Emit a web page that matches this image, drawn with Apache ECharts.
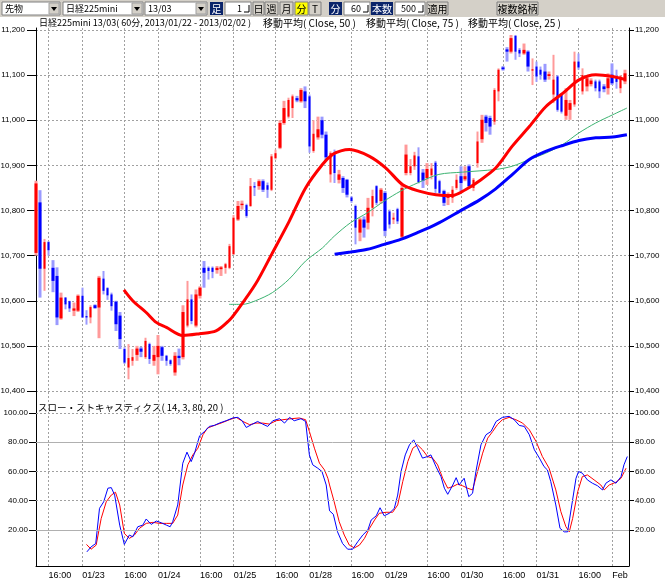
<!DOCTYPE html>
<html>
<head>
<meta charset="utf-8">
<script src="https://cdn.jsdelivr.net/npm/echarts@6/dist/echarts.min.js"></script>
<style>
html, body { margin: 0; padding: 0; background: #fff; }
#chart { width: 665px; height: 579px; }
</style>
</head>
<body>
<div id="chart"></div>
<script>
// 60-minute bars, 2013/01/22 13:00 .. 2013/02/01 ; one extra empty slot at the right edge
const barCount = 142;
const tickBars = [3, 11, 21, 29, 39, 47, 57, 65, 75, 83, 93, 101, 111, 119, 129, 137];
const tickLabels = ['16:00', '01/23', '16:00', '01/24', '16:00', '01/25', '16:00', '01/28',
                    '16:00', '01/29', '16:00', '01/30', '16:00', '01/31', '16:00', 'Feb'];

// [open, close, low, high]
const candles = [
  [10706,10860,10700,10866],[10818,10671,10607,10845],[10671,10730,10622,10737],[10730,10712,10700,10732],
  [10673,10644,10619,10690],[10655,10563,10546,10674],[10561,10607,10558,10618],[10607,10592,10581,10608],
  [10599,10583,10575,10600],[10578,10583,10566,10596],[10578,10611,10575,10614],[10611,10563,10562,10629],
  [10566,10563,10547,10579],[10563,10586,10550,10590],[10590,10584,10582,10592],[10585,10651,10517,10655],
  [10649,10622,10614,10666],[10628,10612,10602,10630],[10614,10588,10578,10618],[10598,10548,10533,10600],
  [10567,10515,10493,10575],[10493,10463,10460,10497],[10452,10473,10426,10504],[10467,10475,10456,10493],
  [10480,10494,10467,10500],[10494,10487,10475,10498],[10475,10511,10471,10518],[10504,10471,10460,10507],
  [10467,10480,10456,10500],[10475,10500,10437,10524],[10497,10478,10467,10500],[10478,10467,10456,10480],
  [10468,10460,10456,10470],[10441,10478,10434,10486],[10478,10473,10457,10494],[10475,10575,10470,10590],
  [10545,10603,10541,10644],[10603,10555,10548,10614],[10545,10614,10541,10625],[10611,10629,10605,10632],
  [10673,10662,10629,10688],[10673,10666,10647,10676],[10673,10664,10650,10676],[10668,10673,10660,10677],
  [10670,10674,10655,10677],[10673,10681,10660,10684],[10673,10721,10670,10726],[10703,10784,10702,10790],
  [10780,10810,10777,10821],[10812,10815,10802,10822],[10812,10788,10784,10815],[10810,10854,10808,10872],
  [10854,10851,10832,10863],[10854,10865,10846,10869],[10865,10846,10841,10869],[10856,10846,10828,10862],
  [10846,10920,10843,10925],[10916,10927,10913,10935],[10939,10994,10936,11000],[10994,11027,10990,11043],
  [11008,11045,11004,11050],[11027,11053,11005,11057],[11049,11044,11040,11054],[11042,11067,11039,11071],
  [11064,11042,11027,11075],[11053,10942,10928,11057],[10932,10970,10928,11000],[10962,10980,10957,11008],
  [11000,10968,10960,11008],[10968,10918,10910,10975],[10880,10927,10862,10931],[10924,10883,10861,10935],
  [10868,10880,10860,10890],[10872,10850,10839,10876],[10868,10835,10829,10870],[10829,10821,10817,10832],
  [10810,10762,10725,10813],[10751,10780,10732,10784],[10780,10762,10740,10787],[10773,10806,10758,10828],
  [10806,10832,10787,10846],[10854,10817,10812,10856],[10821,10846,10815,10850],[10839,10755,10743,10843],
  [10798,10769,10760,10802],[10780,10784,10770,10795],[10803,10776,10770,10806],[10742,10850,10738,10858],
  [10883,10924,10878,10946],[10883,10898,10878,10914],[10898,10922,10890,10930],[10920,10863,10860,10940],
  [10884,10866,10850,10892],[10872,10892,10857,10905],[10878,10893,10869,10905],[10906,10848,10839,10910],
  [10865,10839,10832,10868],[10843,10817,10810,10846],[10828,10835,10812,10840],[10828,10846,10817,10854],
  [10850,10868,10846,10880],[10876,10861,10843,10898],[10869,10876,10865,10898],[10898,10854,10850,10902],
  [10850,10868,10843,10872],[10905,10953,10895,10975],[10958,11001,10950,11012],[11008,10994,10975,11012],
  [11005,10986,10968,11010],[10997,11067,10990,11071],[11064,11112,11042,11115],[11117,11113,11110,11120],
  [11157,11152,11130,11162],[11152,11182,11148,11189],[11187,11152,11134,11189],[11156,11148,11140,11160],
  [11148,11156,11145,11170],[11152,11119,11108,11155],[11110,11113,11078,11137],[11119,11097,11085,11130],
  [11112,11101,11090,11119],[11108,11090,11085,11125],[11098,11102,11090,11108],[11057,11090,11038,11145],
  [11097,11023,11019,11100],[11057,11019,11015,11060],[11010,11045,11001,11071],[11023,11038,11001,11045],
  [11035,11130,11030,11152],[11130,11117,11112,11148],[11064,11100,11057,11115],[11075,11093,11064,11097],
  [11080,11088,11075,11093],[11086,11071,11064,11090],[11086,11064,11049,11090],[11075,11069,11062,11080],
  [11071,11093,11057,11104],[11101,11082,11078,11126],[11097,11085,11070,11112],[11071,11097,11060,11100],
  [11086,11104,11080,11112]
];

// moving averages: [bar position, price]
const ma25 = [[20.9,10624],[23,10600],[26.2,10574],[28.6,10552],[31,10541],[34.9,10523],[38.9,10527],
  [42.8,10533],[46,10557],[47.5,10574],[52.2,10637],[56.2,10706],[60.2,10776],[64.1,10850],[68.1,10902],
  [70.5,10924],[72.5,10932],[74.5,10935],[79.3,10920],[83.2,10894],[87.2,10857],[91.1,10843],[95.1,10835],
  [99,10833],[102.1,10846],[105.3,10865],[109.3,10894],[113.2,10942],[117.3,10986],[121.2,11030],
  [125.3,11060],[129.2,11090],[133.1,11101],[137.1,11097],[140.2,11090]];
const ma50 = [[45.9,10592],[49.1,10592],[52.2,10600],[56.2,10618],[60.2,10648],[64.1,10688],[68.1,10717],
  [70.9,10743],[74.8,10773],[78.8,10795],[82.8,10821],[86.7,10843],[90.7,10861],[95.8,10880],[101.4,10885],
  [109.3,10891],[113.2,10898],[117.3,10913],[121.2,10927],[125.2,10946],[129.1,10972],[133.1,10994],
  [137.1,11012],[140.5,11027]];
const ma75 = [[71,10703],[74.8,10708],[78.8,10714],[82.8,10725],[86.7,10736],[90.7,10751],[93.5,10762],
  [95.9,10773],[101.4,10802],[105.4,10823],[109.3,10848],[113.3,10880],[117.3,10913],[121.2,10931],
  [125.2,10944],[129.1,10955],[133.1,10961],[137.1,10963],[140.5,10968]];

// slow stochastics (14, 3, 80, 20): [bar position, value]
const stochK = [[12.1,4.9],[13.1,8.3],[14.2,10.6],[15.1,34.7],[16.1,39.2],[17.1,48.5],[17.9,48.9],[18.7,43.8],
  [19.9,23.2],[21,10],[22.2,16.4],[23,15.2],[24.2,22.1],[25.4,23.2],[26.2,27.4],[27.4,23.7],[28.6,26],
  [29.8,24.8],[31,23.2],[31.9,22.1],[32.5,25.5],[33.7,37],[34.9,65.6],[35.9,73.2],[36.9,66.7],[37.7,72.5],
  [38.9,84.4],[40.1,87.4],[41.2,90.8],[42.4,91.5],[43.6,93.1],[45.2,94.7],[46.8,96.6],[48,97],[49,94.7],
  [50,90.1],[51.2,92],[52.7,94.2],[53.9,92.4],[55.1,90.8],[56.3,94.7],[57.9,96.1],[59.1,93.1],[60.3,97],
  [61.4,94.7],[63,96.1],[64.1,94.2],[65,71.3],[65.8,64.5],[67,62.2],[68,59.9],[69,50.7],[69.8,33],
  [70.7,30.6],[71.7,18.6],[72.9,10.6],[74.1,6.7],[75.3,6.7],[76.5,11.8],[77.7,16.4],[78.9,19.8],[79.7,26.7],
  [80.9,29.6],[81.8,35.1],[82.8,29.6],[84,31.3],[85.2,34.7],[86,43.8],[86.8,59.9],[87.8,71.3],[88.8,78.2],
  [89.8,81.6],[90.7,76.4],[91.9,69.1],[93.1,70.2],[93.9,71.3],[95.1,63.3],[96.3,56.4],[97.1,48.5],[97.9,44.3],
  [99.1,50.7],[99.9,55.7],[100.6,50.7],[101.8,55.3],[102.9,42.7],[103.8,45],[104.6,59.9],[105.8,78.2],
  [107,85.1],[108.2,87.4],[109.4,94.2],[110.9,97],[112.5,97.7],[113.7,95.4],[114.9,91.5],[116.1,90.8],
  [117.3,85.1],[118.5,74.8],[119.7,69.1],[120.8,63.3],[121.6,61],[122.4,53],[123.6,37],[124.6,21],
  [125.6,18.6],[126.4,18.6],[127.4,37],[128.4,55.3],[129,59.9],[129.9,58.8],[131.1,54.2],[132.3,51.9],
  [133.5,50.2],[134.7,47.3],[135.5,51.9],[136.7,54.2],[137.9,51.9],[139.1,56.4],[139.8,64.5],[140.6,70.2]];
const stochD = [[12,10],[13.1,6.7],[14.3,9.5],[15.5,27.8],[16.7,39.2],[17.9,43.8],[18.9,45.7],[19.9,37],
  [21,17.5],[22.2,14.1],[23.4,16.4],[24.6,21],[26.2,24.4],[27.8,25.1],[29.4,24.4],[31,24.4],[32.5,24.4],
  [33.7,30.1],[34.9,50.7],[36.1,64.5],[37.3,71.3],[38.5,75.9],[39.7,85.1],[40.8,89.7],[42.4,91.5],[44,93.1],
  [46,95.4],[47.6,97],[49.2,94.2],[50.8,92],[52.3,93.1],[53.9,93.1],[55.5,92.4],[57.1,94.7],[58.7,95.4],
  [60.7,96.1],[62.6,96.6],[64.1,95.4],[65,87.4],[66.2,75.9],[67.4,65.6],[68.6,61],[69.4,55.3],[69.8,50.7],
  [70.9,39.2],[72.1,25.5],[73.3,16.4],[74.5,9.5],[75.7,7.6],[76.9,9.5],[78.1,14.1],[79.3,21],[80.5,26.7],
  [81.6,31.3],[83.2,32],[84.8,32],[86,37],[87.2,53],[88.4,66.7],[89.6,75.9],[90.7,78.2],[91.9,74.8],
  [93.1,70.2],[94.3,69.1],[95.5,64.5],[96.7,55.3],[97.9,48.5],[99.1,49.6],[100.2,51.2],[101.4,50.2],
  [102.6,48.5],[103.8,47.3],[105,59.9],[106.2,72.5],[107.4,82.8],[108.6,87.4],[109.7,92],[110.9,95.4],
  [112.5,97],[114.1,95.4],[115.7,93.1],[117.3,88.5],[118.9,80.5],[120.4,70.2],[122,62.2],[123.6,47.3],
  [124.8,32.4],[126,22.1],[126.8,18.6],[127.6,27.8],[128.8,46.1],[129.9,56.4],[131.1,57.6],[132.7,54.2],
  [134.3,50.7],[135.1,47.3],[136.3,50.7],[137.9,52.6],[139.1,55.3],[140.3,62.2]];
const stochLevels = [100, 80, 60, 40, 20];
const signalLevels = [80, 20];

const FONT = "'Liberation Sans', sans-serif";
const JP = "'Noto Sans CJK JP', sans-serif";
const GRID_DASH = { color: '#a0a0a0', type: [2, 2], width: 1 };

const barKeys = Array.from({ length: barCount }, (_, i) => String(i));
const labelOf = {};
tickBars.forEach((b, k) => { labelOf[b] = tickLabels[k]; });
const isTick = (i) => labelOf[i] !== undefined;

const upWick = '#ff9a9a', downWick = '#9a9aff';
const wickData = candles.map(c => ({
  value: [c[2], c[3], c[2], c[3]],
  itemStyle: { color: c[1] >= c[0] ? upWick : downWick, borderColor: c[1] >= c[0] ? upWick : downWick }
}));
const bodyData = candles.map(c => [c[0], c[1], Math.min(c[0], c[1]), Math.max(c[0], c[1])]);

// toolbar decoration
const graphics = [];
graphics.push({ type: 'rect', shape: { x: 0, y: 0, width: 665, height: 17 }, style: { fill: '#d4d0c8' } });
function txt(x, y, s, color, align, size) {
  graphics.push({ type: 'text', x: x, y: y, style: { text: s, fill: color || '#000', font: (size || 10) + 'px ' + JP, align: align || 'left', verticalAlign: 'middle' } });
}
[[2, 58, '先物'], [63, 80, '日経225mini'], [145, 62, '13/03']].forEach(([x, w, s]) => {
  graphics.push({ type: 'rect', shape: { x: x, y: 2, width: w, height: 13 }, style: { fill: '#fff', stroke: '#808080' } });
  graphics.push({ type: 'rect', shape: { x: x + w - 11, y: 3, width: 10, height: 11 }, style: { fill: '#d4d0c8', stroke: '#a0a0a0' } });
  graphics.push({ type: 'polygon', shape: { points: [[x + w - 9, 7], [x + w - 3, 7], [x + w - 6, 11]] }, style: { fill: '#000' } });
  txt(x + 3, 9, s, '#000', 'left', 9);
});
[[210, 13, '足'], [329, 13, '分'], [371, 22, '本数']].forEach(([x, w, s]) => {
  graphics.push({ type: 'rect', shape: { x: x, y: 2, width: w, height: 13 }, style: { fill: '#0a246a' } });
  txt(x + w / 2, 9, s, '#fff', 'center');
});
[[225, 26, '1'], [344, 26, '60'], [395, 30, '500']].forEach(([x, w, s]) => {
  graphics.push({ type: 'rect', shape: { x: x, y: 2, width: w, height: 13 }, style: { fill: '#fff', stroke: '#808080' } });
  txt(x + w - 9, 9, s, '#000', 'right', 9);
  graphics.push({ type: 'polyline', shape: { points: [[x + w - 7, 12], [x + w - 2, 12], [x + w - 2, 5]] }, style: { stroke: '#000', fill: null } });
});
[[253, 11, '日'], [265, 13, '週'], [280, 13, '月'], [295, 13, '分', '#ffff00'], [309, 12, 'T'], [427, 21, '適用'], [497, 41, '複数銘柄']]
  .forEach(([x, w, s, f]) => {
    graphics.push({ type: 'rect', shape: { x: x, y: 2, width: w, height: 13 }, style: { fill: f || '#d4d0c8', stroke: '#808080' } });
    txt(x + w / 2, 9, s, '#000', 'center');
  });
// chart titles
txt(39, 23, '日経225mini 13/03( 60分, 2013/01/22 - 2013/02/02 )', '#000', 'left', 9);
txt(263, 23, '移動平均( Close, 50 )');
txt(366, 23, '移動平均( Close, 75 )');
txt(468, 23, '移動平均( Close, 25 )');
txt(38, 407, 'スロー・ストキャスティクス( 14, 3, 80, 20 )', '#000', 'left', 9.5);

const axisText = { fontFamily: FONT, fontSize: 8, color: '#000' };
const timeText = { fontFamily: FONT, fontSize: 9, color: '#000' };

const option = {
  animation: false,
  backgroundColor: '#fff',
  grid: [
    { left: 36, width: 593, top: 30, height: 361, outerBoundsMode: 'none' },
    { left: 36, width: 593, top: 413, height: 146, outerBoundsMode: 'none' },
    { left: 36, width: 593, top: 28, height: 538, outerBoundsMode: 'none' }
  ],
  xAxis: [
    { gridIndex: 0, type: 'category', data: barKeys, boundaryGap: false, show: false },
    { gridIndex: 0, type: 'value', min: 0, max: barCount - 1, show: false },
    { gridIndex: 1, type: 'value', min: 0, max: barCount - 1, show: false },
    {
      gridIndex: 2, type: 'category', data: barKeys, boundaryGap: false, position: 'bottom',
      axisLine: { show: true, lineStyle: { color: '#000', width: 1 } },
      axisTick: { show: false },
      axisLabel: Object.assign({ interval: (i) => isTick(i), formatter: (v) => labelOf[v] || '', align: 'left', margin: 5 }, timeText),
      splitLine: { show: true, interval: (i) => isTick(i), lineStyle: GRID_DASH }
    }
  ],
  yAxis: [
    {
      gridIndex: 0, type: 'value', position: 'left', min: 10400, max: 11200, interval: 100,
      axisLine: { show: false }, axisTick: { show: true, length: 9, lineStyle: { color: '#000' } },
      axisLabel: Object.assign({ margin: 11, formatter: (v) => v.toLocaleString('en-US') }, axisText),
      splitLine: { show: true, lineStyle: GRID_DASH }
    },
    {
      gridIndex: 0, type: 'value', position: 'right', min: 10400, max: 11200, interval: 100,
      axisLine: { show: false }, axisTick: { show: true, length: 5, lineStyle: { color: '#000' } },
      axisLabel: Object.assign({ margin: 6, formatter: (v) => v.toLocaleString('en-US') }, axisText),
      splitLine: { show: false }
    },
    {
      gridIndex: 1, type: 'value', position: 'left', min: 0, max: 100, interval: 20,
      axisLine: { show: false }, axisTick: { show: true, length: 7, lineStyle: { color: '#000' } },
      axisLabel: Object.assign({ margin: 8, showMinLabel: false, formatter: (v) => v.toFixed(2) }, axisText),
      splitLine: { show: false }
    },
    {
      gridIndex: 1, type: 'value', position: 'right', min: 0, max: 100, interval: 20,
      axisLine: { show: false }, axisTick: { show: true, length: 5, lineStyle: { color: '#000' } },
      axisLabel: Object.assign({ margin: 6, showMinLabel: false, formatter: (v) => v.toFixed(2) }, axisText),
      splitLine: { show: false }
    },
    { gridIndex: 2, type: 'value', position: 'left', axisLine: { show: true, lineStyle: { color: '#000' } }, axisTick: { show: false }, axisLabel: { show: false }, splitLine: { show: false } },
    { gridIndex: 2, type: 'value', position: 'right', axisLine: { show: true, lineStyle: { color: '#000' } }, axisTick: { show: false }, axisLabel: { show: false }, splitLine: { show: false } }
  ],
  series: [
    {
      name: 'wick', type: 'candlestick', xAxisIndex: 0, yAxisIndex: 0, data: wickData,
      barWidth: 3, clip: false, silent: true, itemStyle: { borderWidth: 0 }
    },
    {
      name: 'body', type: 'candlestick', xAxisIndex: 0, yAxisIndex: 0, data: bodyData,
      barWidth: 3, clip: false, silent: true,
      itemStyle: { color: '#ff0000', color0: '#0000ff', borderColor: '#ff0000', borderColor0: '#0000ff', borderWidth: 0 }
    },
    { name: 'MA50', type: 'line', xAxisIndex: 1, yAxisIndex: 0, data: ma50, smooth: 0.3, showSymbol: false, lineStyle: { color: '#3cb371', width: 1 } },
    { name: 'MA75', type: 'line', xAxisIndex: 1, yAxisIndex: 0, data: ma75, smooth: 0.3, showSymbol: false, lineStyle: { color: '#0000ff', width: 3 } },
    { name: 'MA25', type: 'line', xAxisIndex: 1, yAxisIndex: 0, data: ma25, smooth: 0.3, showSymbol: false, lineStyle: { color: '#ff0000', width: 3 } },
    {
      name: 'levels', type: 'line', xAxisIndex: 2, yAxisIndex: 2, data: [], z: 1,
      markLine: {
        silent: true, symbol: 'none', label: { show: false }, animation: false,
        data: stochLevels.map(v => ({
          yAxis: v,
          lineStyle: signalLevels.includes(v) ? { color: '#b0b0b0', type: 'solid', width: 1 } : GRID_DASH
        }))
      }
    },
    { name: '%D', type: 'line', xAxisIndex: 2, yAxisIndex: 2, data: stochD, showSymbol: false, lineStyle: { color: '#ff0000', width: 1 } },
    { name: '%K', type: 'line', xAxisIndex: 2, yAxisIndex: 2, data: stochK, showSymbol: false, lineStyle: { color: '#0000ff', width: 1 } }
  ],
  graphic: graphics
};

const chart = echarts.init(document.getElementById('chart'));
chart.setOption(option);
</script>
</body>
</html>
